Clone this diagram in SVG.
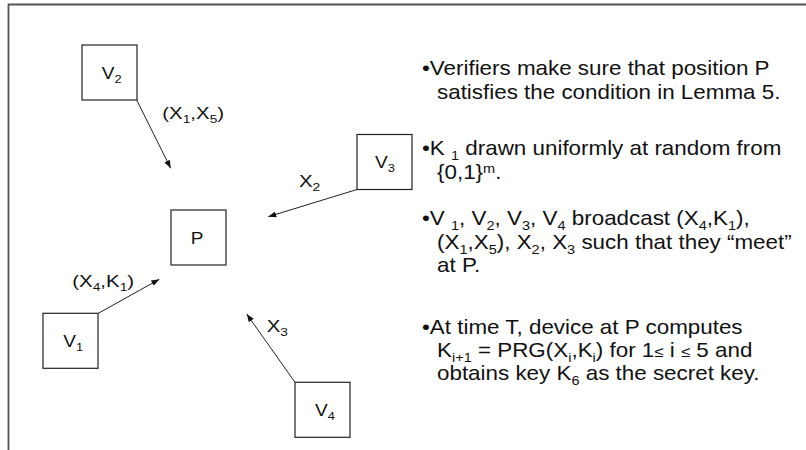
<svg xmlns="http://www.w3.org/2000/svg" width="806" height="450" viewBox="0 0 806 450">
<defs>
<style>
.box{fill:#fff;stroke:#222;stroke-width:1.2}
.frame{stroke:#555;stroke-width:1.8;fill:none}
.t{font-family:"Liberation Sans",Arial,Helvetica,sans-serif;fill:#111}
.lbl{font-size:17px}
.body{font-size:20px}
.ls{font-size:11.5px}
.bs{font-size:13px}
.le{font-size:15px}
.conn{stroke:#222;stroke-width:1;fill:none;marker-end:url(#ah)}
</style>
<marker id="ah" viewBox="0 0 8 6" refX="8" refY="3" markerWidth="8" markerHeight="6" markerUnits="userSpaceOnUse" orient="auto">
<path d="M0,0 L8,3 L0,6 z" fill="#111"/>
</marker>
</defs>
<rect width="806" height="450" fill="#fff"/>
<path class="frame" d="M8.5,450 V4.5 H806"/>

<g id="connectors">
<line class="conn" x1="136.7" y1="100" x2="170.7" y2="168.3"/>
<line class="conn" x1="357" y1="189.5" x2="268.3" y2="216.7"/>
<line class="conn" x1="98.3" y1="313.3" x2="159.3" y2="279.3"/>
<line class="conn" x1="295" y1="382.3" x2="246.7" y2="314"/>
</g>

<g id="edge-labels" class="t lbl">
<text transform="translate(162.3,119) scale(1.2,1)">(X<tspan class="ls" dy="4">1</tspan><tspan dy="-4">,X</tspan><tspan class="ls" dy="4">5</tspan><tspan dy="-4">)</tspan></text>
<text transform="translate(299,187) scale(1.2,1)">X<tspan class="ls" dy="4">2</tspan></text>
<text transform="translate(72.3,287) scale(1.2,1)">(X<tspan class="ls" dy="4">4</tspan><tspan dy="-4">,K</tspan><tspan class="ls" dy="4">1</tspan><tspan dy="-4">)</tspan></text>
<text transform="translate(266.7,332) scale(1.2,1)">X<tspan class="ls" dy="4">3</tspan></text>
</g>

<g id="V2">
<rect class="box" x="82" y="45" width="55" height="55"/>
<text class="t lbl" transform="translate(101.7,79) scale(1.12,1)">V<tspan class="ls" dy="4">2</tspan></text>
</g>
<g id="V3">
<rect class="box" x="357" y="134.5" width="55" height="55"/>
<text class="t lbl" transform="translate(375,168) scale(1.12,1)">V<tspan class="ls" dy="4">3</tspan></text>
</g>
<g id="P">
<rect class="box" x="171" y="210" width="55" height="55"/>
<text class="t lbl" transform="translate(190.7,244) scale(1.12,1)">P</text>
</g>
<g id="V1">
<rect class="box" x="43" y="313.3" width="55" height="55"/>
<text class="t lbl" transform="translate(63.3,346.5) scale(1.12,1)">V<tspan class="ls" dy="4">1</tspan></text>
</g>
<g id="V4">
<rect class="box" x="295" y="382.3" width="55" height="55"/>
<text class="t lbl" transform="translate(315,415.5) scale(1.12,1)">V<tspan class="ls" dy="4">4</tspan></text>
</g>

<g id="bullets" class="t body">
<text transform="translate(422,75) scale(1.12,1)">•Verifiers make sure that position P</text>
<text transform="translate(437,99) scale(1.12,1)">satisfies the condition in Lemma 5.</text>
<text transform="translate(422,155) scale(1.12,1)">•K <tspan class="bs" dy="5">1</tspan><tspan dy="-5"> drawn uniformly at random from</tspan></text>
<text transform="translate(437,179) scale(1.12,1)">{0,1}<tspan class="bs" dy="-6">m</tspan><tspan dy="6">.</tspan></text>
<text transform="translate(422,225) scale(1.12,1)">•V <tspan class="bs" dy="5">1</tspan><tspan dy="-5">, V</tspan><tspan class="bs" dy="5">2</tspan><tspan dy="-5">, V</tspan><tspan class="bs" dy="5">3</tspan><tspan dy="-5">, V</tspan><tspan class="bs" dy="5">4</tspan><tspan dy="-5"> broadcast (X</tspan><tspan class="bs" dy="5">4</tspan><tspan dy="-5">,K</tspan><tspan class="bs" dy="5">1</tspan><tspan dy="-5">),</tspan></text>
<text transform="translate(437,249) scale(1.12,1)">(X<tspan class="bs" dy="5">1</tspan><tspan dy="-5">,X</tspan><tspan class="bs" dy="5">5</tspan><tspan dy="-5">), X</tspan><tspan class="bs" dy="5">2</tspan><tspan dy="-5">, X</tspan><tspan class="bs" dy="5">3</tspan><tspan dy="-5"> such that they “meet”</tspan></text>
<text transform="translate(437,272) scale(1.12,1)">at P.</text>
<text transform="translate(422,334) scale(1.12,1)">•At time T, device at P computes</text>
<text transform="translate(437,357) scale(1.12,1)">K<tspan class="bs" dy="5">i+1</tspan><tspan dy="-5"> = PRG(X</tspan><tspan class="bs" dy="5">i</tspan><tspan dy="-5">,K</tspan><tspan class="bs" dy="5">i</tspan><tspan dy="-5">) for 1</tspan><tspan class="le">≤</tspan> i <tspan class="le">≤</tspan> 5 and</text>
<text transform="translate(437,380) scale(1.12,1)">obtains key K<tspan class="bs" dy="5">6</tspan><tspan dy="-5"> as the secret key.</tspan></text>
</g>
</svg>
